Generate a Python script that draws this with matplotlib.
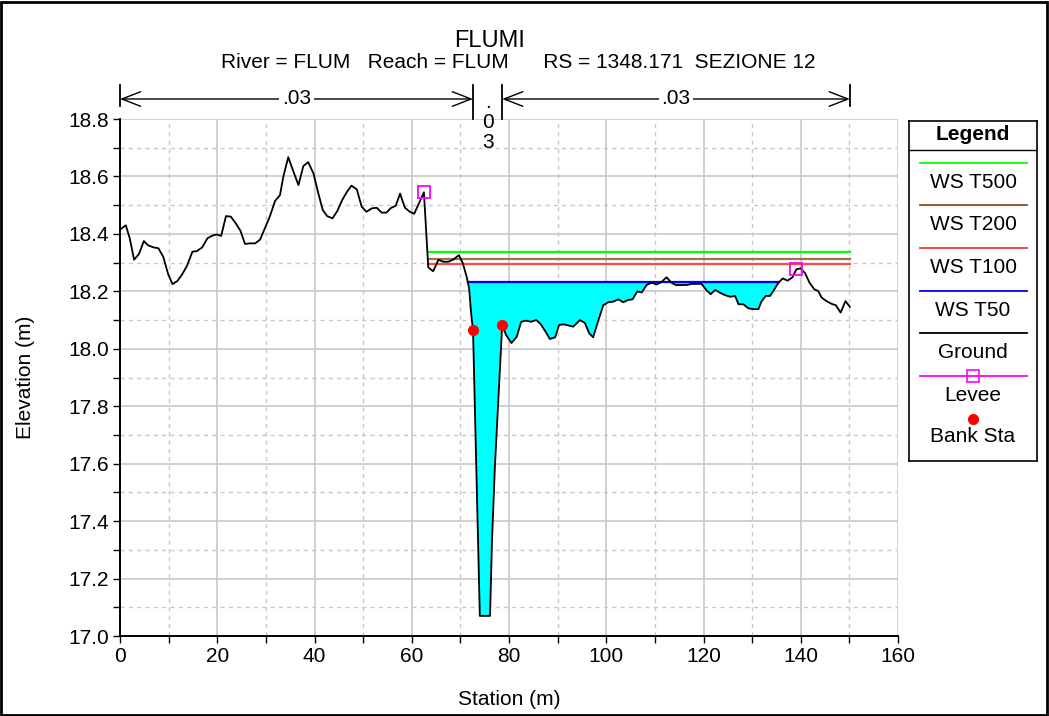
import matplotlib

matplotlib.use("Agg")
import matplotlib.pyplot as plt
import matplotlib.transforms as mtransforms
import numpy as np
from matplotlib.patches import Rectangle

# Cross-section data (station m, elevation m)
STATION = [
    0.0, 1.2, 2.0, 2.9, 3.9, 4.9, 5.8, 6.9, 7.9, 8.9, 9.9, 10.8, 11.8, 12.7, 13.7,
    14.9, 15.8, 16.9, 18.0, 19.0, 19.9, 20.8, 21.8, 22.8, 23.8, 24.8, 25.7, 26.7,
    27.8, 28.8, 29.8, 30.8, 31.9, 32.9, 33.6, 34.6, 35.6, 36.7, 37.7, 38.7, 39.8,
    40.8, 41.7, 42.6, 43.7, 44.7, 45.7, 46.7, 47.6, 48.7, 49.7, 50.7, 51.8, 52.8,
    53.8, 54.8, 55.7, 56.7, 57.6, 58.6, 59.6, 60.5, 61.5, 62.5, 63.4, 64.4, 65.5,
    66.5, 67.5, 68.5, 69.7, 70.5, 71.3, 71.8, 72.2, 72.6, 74.0, 76.1, 76.5, 77.1,
    78.6, 79.4, 80.5, 81.6, 82.5, 83.5, 84.5, 85.6, 86.5, 87.5, 88.4, 89.5, 90.3,
    91.3, 92.5, 93.2, 94.6, 95.6, 96.5, 97.3, 98.4, 99.4, 100.4, 101.4, 102.5,
    103.5, 104.5, 105.4, 106.4, 107.3, 108.3, 109.3, 110.4, 111.4, 112.4, 113.4,
    114.3, 115.5, 116.5, 117.6, 118.6, 119.6, 120.7, 121.5, 122.4, 123.4, 124.4,
    125.5, 126.5, 127.2, 128.2, 129.2, 130.2, 131.3, 131.9, 132.8, 133.7, 134.5,
    135.4, 136.3, 137.3, 138.3, 139.1, 140.0, 140.9, 141.8, 142.8, 143.6, 144.3,
    145.3, 146.4, 147.2, 148.2, 149.2, 150.1,
]
ELEVATION = [
    18.415, 18.43, 18.385, 18.31, 18.33, 18.375, 18.36, 18.353, 18.35, 18.32, 18.26,
    18.225, 18.236, 18.257, 18.286, 18.338, 18.34, 18.353, 18.385, 18.394, 18.398,
    18.393, 18.462, 18.46, 18.437, 18.41, 18.365, 18.367, 18.367, 18.38, 18.42,
    18.46, 18.515, 18.535, 18.60, 18.667, 18.62, 18.57, 18.636, 18.65, 18.61, 18.54,
    18.483, 18.462, 18.454, 18.48, 18.518, 18.547, 18.568, 18.555, 18.495, 18.477,
    18.489, 18.491, 18.474, 18.474, 18.49, 18.498, 18.54, 18.491, 18.477, 18.47,
    18.507, 18.545, 18.283, 18.27, 18.31, 18.303, 18.303, 18.31, 18.326, 18.298,
    18.25, 18.21, 18.125, 18.065, 17.07, 17.07, 17.33, 17.59, 18.083, 18.048, 18.02,
    18.042, 18.094, 18.098, 18.094, 18.10, 18.086, 18.06, 18.034, 18.04, 18.083,
    18.085, 18.08, 18.077, 18.10, 18.09, 18.054, 18.04, 18.10, 18.152, 18.162,
    18.164, 18.172, 18.162, 18.17, 18.172, 18.20, 18.196, 18.222, 18.23, 18.224,
    18.233, 18.249, 18.23, 18.222, 18.222, 18.222, 18.226, 18.226, 18.226, 18.202,
    18.19, 18.205, 18.195, 18.187, 18.181, 18.184, 18.155, 18.155, 18.141, 18.138,
    18.138, 18.164, 18.184, 18.184, 18.205, 18.23, 18.245, 18.237, 18.249, 18.277,
    18.28, 18.263, 18.23, 18.207, 18.201, 18.178, 18.166, 18.156, 18.152, 18.126,
    18.166, 18.146,
]

# Water surfaces: label, elevation, start station, end station, colour
WS_LABELS = ["WS T500", "WS T200", "WS T100", "WS T50"]
WS_LEVELS = [18.337, 18.313, 18.294, 18.231]
WS_START = [63.4, 63.4, 63.4, 71.6]
WS_END = [150.1, 150.1, 150.1, 135.5]
WS_COLORS = ["#00ff00", "#a0714b", "#ff4a4a", "#0000ff"]

LEVEE_STA = [62.5, 139.1]
LEVEE_ELEV = [18.545, 18.277]
BANK_STA = [72.6, 78.6]
BANK_ELEV = [18.065, 18.083]

# Manning's n zones along the top
N_BOUNDS = [0.0, 72.6, 78.6, 150.1]
N_LABELS = [".03", ".03", ".03"]

TITLE = "FLUMI"
SUBTITLE = "River = FLUM   Reach = FLUM      RS = 1348.171  SEZIONE 12"

W, H = 1049, 716
FS = 15


def fx(px):
    return px / W


def fy(py):
    return 1 - py / H


plt.rcParams["font.family"] = ["Liberation Sans", "DejaVu Sans"]
plt.rcParams["font.size"] = FS

fig = plt.figure(figsize=(W / 100, H / 100), dpi=100)
ax = fig.add_axes([fx(120), fy(636), fx(898) - fx(120), fy(119) - fy(636)])

sta = np.array(STATION)
elev = np.array(ELEVATION)

# channel fill for the lowest profile
ws50 = WS_LEVELS[3]
mask = (sta >= 71.0) & (sta <= 136.0) & (elev <= ws50)
ax.fill_between(sta, elev, ws50, where=mask, interpolate=True,
                color="#00ffff", lw=0, zorder=2)

for lvl, x0, x1, col in zip(WS_LEVELS, WS_START, WS_END, WS_COLORS):
    ax.plot([x0, x1], [lvl, lvl], color=col, lw=1.6, zorder=3)

ax.plot(sta, elev, color="black", lw=1.3, zorder=4)
ax.plot(LEVEE_STA, LEVEE_ELEV, ls="none", marker="s", ms=8, mfc="none",
        mec="#ff00ff", mew=1.3, zorder=5)
ax.plot(BANK_STA, BANK_ELEV, ls="none", marker="o", ms=7, color="red", zorder=5)

ax.set_xlim(0, 160)
ax.set_ylim(17.0, 18.8)
ax.set_xticks(np.arange(0, 161, 20))
ax.set_xticks(np.arange(10, 160, 20), minor=True)
ax.set_yticks(np.arange(17.0, 18.81, 0.2))
ax.set_yticks(np.arange(17.1, 18.8, 0.2), minor=True)
ax.set_yticklabels([f"{v:.1f}" for v in np.arange(17.0, 18.81, 0.2)])
ax.grid(True, which="major", color="#c8c8c8", lw=1.2, ls="-", zorder=0)
ax.grid(True, which="minor", color="#c8c8c8", lw=1.0, ls=(0, (3, 3)), zorder=0)
ax.set_axisbelow(True)
ax.tick_params(which="both", direction="out", length=5, width=1, labelsize=FS, pad=3)
for side in ("top", "right"):
    ax.spines[side].set_visible(False)
for side in ("left", "bottom"):
    ax.spines[side].set_linewidth(1.4)
ax.set_xlabel("Station (m)", fontsize=FS, labelpad=17)
ax.set_ylabel("Elevation (m)", fontsize=FS, labelpad=24)

# Manning's n dimension arrows above the plot
trans = mtransforms.blended_transform_factory(ax.transData, ax.transAxes)
y_arr = (636 - 99) / 517
y_top = (636 - 85) / 517
for b in N_BOUNDS:
    inner = b not in (N_BOUNDS[0], N_BOUNDS[-1])
    ax.plot([b, b], [1.0 if inner else 1.025, y_top], color="black", lw=1.3,
            transform=trans, clip_on=False)
for i, lab in enumerate(N_LABELS):
    x0, x1 = N_BOUNDS[i], N_BOUNDS[i + 1]
    xm = (x0 + x1) / 2
    if x1 - x0 > 20:
        ax.annotate("", xy=(x1, y_arr), xytext=(x0, y_arr), xycoords=trans,
                    textcoords=trans,
                    arrowprops=dict(arrowstyle="<->,head_length=0.9,head_width=0.35",
                                    lw=1.0, color="black", shrinkA=0, shrinkB=0))
        ax.text(xm, y_arr, lab, transform=trans, ha="center", va="center",
                fontsize=FS, bbox=dict(fc="white", ec="none", pad=2))
    else:
        for ch, py in zip(lab, [103, 123, 143]):
            ax.text(xm, (636 - py) / 517, ch, transform=trans, ha="center",
                    va="center", fontsize=FS)

fig.text(fx(490), fy(41), TITLE, ha="center", va="center", fontsize=17)
fig.text(fx(518), fy(62), SUBTITLE, ha="center", va="center", fontsize=FS)

# Legend panel drawn by hand
lax = fig.add_axes([fx(909), fy(461), fx(1037) - fx(909), fy(121) - fy(461)])
lax.set_xlim(909, 1037)
lax.set_ylim(461, 121)
lax.set_xticks([])
lax.set_yticks([])
for s in lax.spines.values():
    s.set_linewidth(1.2)
lax.plot([909, 1037], [150, 150], color="black", lw=1.0)
lax.text(973, 134, "Legend", ha="center", va="center", fontsize=FS, fontweight="bold")
line_labels = WS_LABELS + ["Ground"]
line_colors = WS_COLORS[:3] + ["#0000ff", "black"]
line_colors[1] = "#8b4a1c"
line_colors[2] = "#ff3030"
for i, (lab, col) in enumerate(zip(line_labels, line_colors)):
    yl = 162.5 + i * 42.7
    lax.plot([920, 1027], [yl, yl], color=col, lw=1.3)
    lax.text(973, yl + 19.5, lab, ha="center", va="center", fontsize=FS)
y_lev = 162.5 + 5 * 42.7
lax.plot([920, 1027], [y_lev, y_lev], color="#ff00ff", lw=1.3)
lax.plot([973], [y_lev], marker="s", ms=8, mfc="none", mec="#ff00ff", mew=1.2)
lax.text(973, y_lev + 19.5, "Levee", ha="center", va="center", fontsize=FS)
y_bank = 162.5 + 6 * 42.7
lax.plot([973], [y_bank], marker="o", ms=7, color="red", ls="none")
lax.text(973, y_bank + 18, "Bank Sta", ha="center", va="center", fontsize=FS)

# outer frame
fig.patches.append(Rectangle((0.001, 0.002), 0.997, 0.995, transform=fig.transFigure,
                             fill=False, ec="black", lw=2.0))

fig.savefig("out.png", dpi=100)
plt.close(fig)
